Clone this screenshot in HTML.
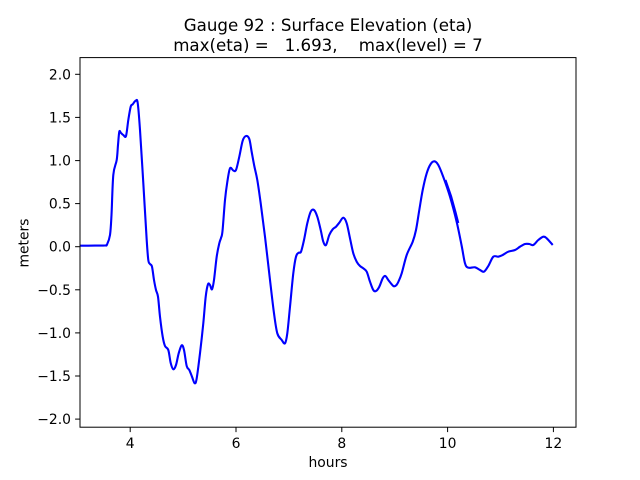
<!DOCTYPE html>
<html>
<head>
<meta charset="utf-8">
<style>
html,body{margin:0;padding:0;background:#fff;}
svg{display:block;}
text{font-family:"DejaVu Sans","Liberation Sans",sans-serif;fill:#000;}
</style>
</head>
<body>
<svg width="640" height="480" viewBox="0 0 640 480" xmlns="http://www.w3.org/2000/svg">
<rect x="0" y="0" width="640" height="480" fill="#fff"/>
<!-- title -->
<text x="328" y="31" font-size="16.67" text-anchor="middle">Gauge 92 : Surface Elevation (eta)</text>
<text x="328" y="51" font-size="16.67" text-anchor="middle" xml:space="preserve" style="white-space:pre">max(eta) =   1.693,    max(level) = 7</text>

<!-- data line -->
<g fill="none" stroke="#0000ff" stroke-width="2.1" stroke-linejoin="round" stroke-linecap="butt">
<polyline id="main" points="80,245.7 95,245.6 105,245.5 107,244.5 110,235 111.5,215 113.3,175 116.7,160 118,145 119.3,131.7 121,133 123.3,135 126,136 128.3,120 130.7,106.7 132.7,104.3 135.7,100.7 137.7,103 140,130 143.3,183 146.7,240 148.3,260 150,264 152,266.7 154,280 156,290 158,296.7 160,316.7 162.7,336.7 165,346 168.3,350 170.7,363 173.3,369.3 176,365 178.7,353.3 181.7,345.3 184,350 186.7,366 189.3,370 192,376.7 194.7,383.3 196.7,378.3 200,353.3 203.3,323.3 205.7,296.7 208,284.3 210,285 212,289.3 214,280 216.7,256.7 219.3,243.3 221,238 222.5,231 225,200 227.3,182 230,168.3 233.3,170.5 236,170 239.3,156.7 242.7,140.7 246,136 249.3,139 251.7,152 254.3,166 257.3,180 260.7,203.3 265,236.7 270,280 274,313.3 277.3,333.3 281.7,340 285,343.3 287.3,333.3 290,306.7 293.3,273.3 296,256.7 298.7,252.7 301,251.7 304,240 307.3,223.3 310.7,211.7 314,210 317.3,216.7 320.7,230 323.3,241.7 326,245 329.3,235 332.7,229.3 336,226.7 339.3,222.7 343.3,217.7 346.7,223.3 350,238.3 353.3,253.3 356.7,261.7 360,266 363.3,268.3 366.7,271.7 370,281.7 373.3,290 376,291 379.3,286.7 382.7,278.3 385.3,276 388.3,280 391.7,284.3 394,286.3 396.5,285 398.5,281.5 401.7,273.3 406.7,255 412.7,241.7 416,230 419.3,210 422.7,190 426.7,173.3 430.7,164 434.5,161.3 438.3,165 443.3,177 450,196.7 456.7,222 461.7,246 465,263.3 468.3,267.7 475,267.3 480,270 484,271.7 488.3,266 493.3,256.7 498.3,256.7 502.7,255 508.3,251.7 515,250 520,246.7 525,244 529.3,244 533.3,245 538.3,240 543.3,236.7 546.7,238.3 552.7,245"/>
<polyline points="445.5,180 451.2,196.5 455.5,212 458.3,223" stroke-width="2.0"/>
</g>

<!-- axes frame -->
<rect x="80" y="57.6" width="496" height="369.6" fill="none" stroke="#000" stroke-width="1"/>

<!-- y ticks -->
<g stroke="#000" stroke-width="1">
<line x1="75.1" y1="74.3" x2="80" y2="74.3"/>
<line x1="75.1" y1="117.4" x2="80" y2="117.4"/>
<line x1="75.1" y1="160.6" x2="80" y2="160.6"/>
<line x1="75.1" y1="203.6" x2="80" y2="203.6"/>
<line x1="75.1" y1="246.7" x2="80" y2="246.7"/>
<line x1="75.1" y1="289.8" x2="80" y2="289.8"/>
<line x1="75.1" y1="332.9" x2="80" y2="332.9"/>
<line x1="75.1" y1="376.0" x2="80" y2="376.0"/>
<line x1="75.1" y1="419.1" x2="80" y2="419.1"/>
</g>
<g font-size="13.9" text-anchor="end">
<text x="71" y="79.3">2.0</text>
<text x="71" y="122.4">1.5</text>
<text x="71" y="165.6">1.0</text>
<text x="71" y="208.6">0.5</text>
<text x="71" y="251.7">0.0</text>
<text x="71" y="294.8">−0.5</text>
<text x="71" y="337.9">−1.0</text>
<text x="71" y="381.0">−1.5</text>
<text x="71" y="424.1">−2.0</text>
</g>

<!-- x ticks -->
<g stroke="#000" stroke-width="1">
<line x1="130.2" y1="427.2" x2="130.2" y2="432.1"/>
<line x1="236" y1="427.2" x2="236" y2="432.1"/>
<line x1="341.8" y1="427.2" x2="341.8" y2="432.1"/>
<line x1="447.6" y1="427.2" x2="447.6" y2="432.1"/>
<line x1="553.4" y1="427.2" x2="553.4" y2="432.1"/>
</g>
<g font-size="13.9" text-anchor="middle">
<text x="130.2" y="448">4</text>
<text x="236" y="448">6</text>
<text x="341.8" y="448">8</text>
<text x="447.6" y="448">10</text>
<text x="553.4" y="448">12</text>
</g>

<!-- axis labels -->
<text x="328" y="467" font-size="13.9" text-anchor="middle">hours</text>
<text x="0" y="0" font-size="13.9" text-anchor="middle" transform="translate(28.5,243) rotate(-90)">meters</text>
</svg>
<script>
(function(){
  try{
    var pl=document.getElementById('main');
    var raw=pl.getAttribute('points').trim().split(/\s+/).map(function(s){var a=s.split(',');return [+a[0],+a[1]];});
    var d='M'+raw[0][0]+','+raw[0][1];
    for(var i=0;i<raw.length-1;i++){
      var p0=raw[i>0?i-1:i],p1=raw[i],p2=raw[i+1],p3=raw[i+2<raw.length?i+2:i+1];
      var t=0.5/3;
      var c1x=p1[0]+(p2[0]-p0[0])*t,c1y=p1[1]+(p2[1]-p0[1])*t;
      var c2x=p2[0]-(p3[0]-p1[0])*t,c2y=p2[1]-(p3[1]-p1[1])*t;
      d+=' C'+c1x.toFixed(2)+','+c1y.toFixed(2)+' '+c2x.toFixed(2)+','+c2y.toFixed(2)+' '+p2[0]+','+p2[1];
    }
    var path=document.createElementNS('http://www.w3.org/2000/svg','path');
    path.setAttribute('d',d);
    pl.parentNode.replaceChild(path,pl);
  }catch(e){}
})();
</script>
</body>
</html>
